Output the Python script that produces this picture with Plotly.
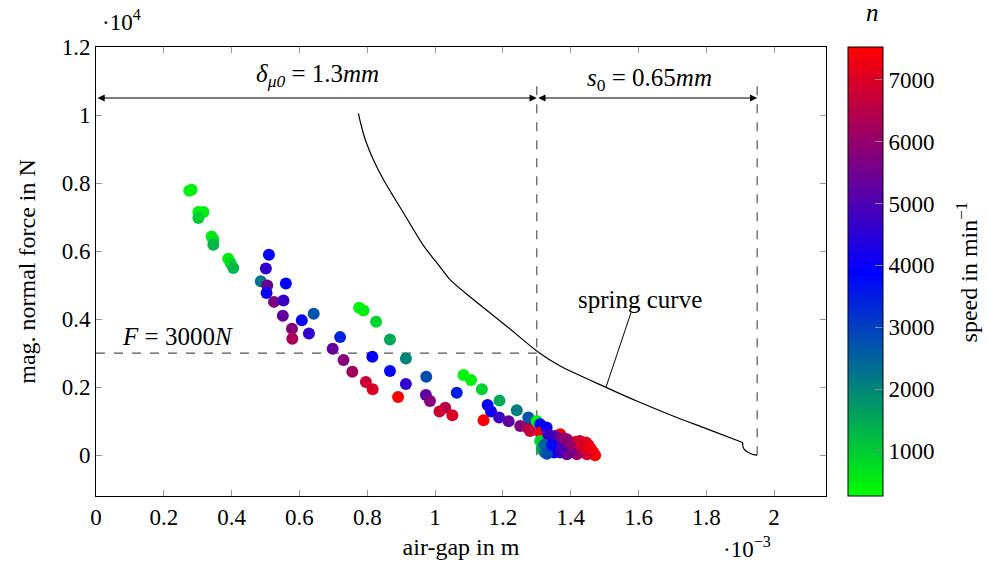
import numpy as np
import plotly.graph_objects as go

# ---- data (air gap in mm, force in N, speed in 1/min) ----
gap_mm = [0.275, 0.282, 0.302, 0.317, 0.302, 0.341, 0.346, 0.346, 0.390, 0.397, 0.405,
          0.510, 0.501, 0.486, 0.505, 0.503, 0.560, 0.525, 0.553, 0.551, 0.607, 0.642,
          0.578, 0.579, 0.628, 0.720, 0.776, 0.789, 0.698, 0.730, 0.826, 0.867, 0.756,
          0.796, 0.816, 0.815, 0.867, 0.914, 0.914, 0.891, 0.974, 0.973, 0.985, 1.030,
          1.013, 1.051, 1.064, 1.084, 1.106, 1.138, 1.190, 1.155, 1.165, 1.143, 1.189,
          1.217, 1.241, 1.251, 1.272, 1.280, 1.275, 1.300, 1.310, 1.310, 1.329, 1.369,
          1.310, 1.315, 1.324, 1.336, 1.351, 1.336, 1.364, 1.389, 1.389, 1.413, 1.418,
          1.445, 1.437, 1.457, 1.467, 1.472, 1.369, 1.389, 1.418, 1.448, 1.354, 1.334,
          1.322, 1.330, 1.345, 1.400, 1.430, 1.375, 1.401, 1.427, 1.452, 1.460, 1.380]
force_N = [7773, 7802, 7148, 7148, 6972, 6432, 6335, 6189, 5778, 5651, 5505,
           5895, 5485, 5113, 4986, 4771, 5045, 4507, 4546, 4097, 3969, 4156,
           3716, 3423, 3578, 3471, 4331, 4253, 3129, 2796, 3921, 3402, 2455,
           2150, 1936, 2895, 2473, 2845, 2091, 1710, 2308, 1769, 1593, 1398,
           1281, 1173, 1838, 2355, 2209, 1936, 1604, 1476, 1281, 1026, 1105,
           997, 1320, 860, 812, 713, 1105, 1007, 909, 665, 812, 616,
           420, 176, 78, 176, 78, 420, 372, 469, 274, 390, 176,
           372, 176, 196, 78, 0, 78, 29, 29, 29, 567, 616,
           300, 40, 300, 120, 300, 230, 330, 420, 300, 180, 500]
speed = [400, 500, 500, 500, 1000, 500, 700, 1300, 500, 800, 1300,
         3900, 4600, 2200, 5400, 4100, 3900, 5700, 4700, 5300, 4000, 2700,
         5800, 6300, 4600, 3400, 400, 500, 5300, 5800, 900, 1500, 6200,
         6800, 7000, 4000, 4000, 2000, 4600, 7500, 2800, 5200, 5800, 6400,
         6800, 7000, 3500, 400, 500, 900, 1500, 4000, 4100, 7500, 4700,
         5300, 2100, 5700, 6300, 6700, 2700, 400, 3900, 7400, 4000, 7500,
         900, 1500, 2100, 3900, 4000, 4600, 5300, 6200, 5600, 6800, 6200,
         7400, 6800, 7300, 7500, 7500, 4600, 5400, 6100, 6800, 5300, 4700,
         2500, 2800, 3800, 5600, 6900, 5000, 6000, 6900, 7200, 7300, 5900]

# spring curve: smooth part and the small drop at its end
spring_gap_mm = [0.774, 0.780, 0.795, 0.820, 0.848, 0.880, 0.907, 0.966, 1.015, 1.044,
                 1.113, 1.211, 1.307, 1.369, 1.504, 1.600, 1.700, 1.800, 1.907]
spring_force = [10050, 9780, 9250, 8640, 8095, 7560, 7119, 6160, 5530, 5162,
                4576, 3792, 3012, 2620, 1994, 1570, 1160, 780, 372]
drop_gap_mm = [1.907, 1.908, 1.912, 1.920, 1.930, 1.940, 1.950]
drop_force = [372, 250, 170, 100, 50, 15, 0]

x_ticks = [0, 0.2, 0.4, 0.6, 0.8, 1.0, 1.2, 1.4, 1.6, 1.8, 2.0]
x_tick_text = ["0", "0.2", "0.4", "0.6", "0.8", "1", "1.2", "1.4", "1.6", "1.8", "2"]
y_ticks = [0, 2000, 4000, 6000, 8000, 10000, 12000]
y_tick_text = ["0", "0.2", "0.4", "0.6", "0.8", "1", "1.2"]
cbar_ticks = [1000, 2000, 3000, 4000, 5000, 6000, 7000]

delta_mu0 = 1.3e-3
s0 = 0.65e-3
F_line = 3000

gap = np.array(gap_mm) * 1e-3

FONT = "Liberation Serif"
TICK = 23
TXT = 25
fig = go.Figure()

fig.add_trace(go.Scatter(
    x=np.array(spring_gap_mm) * 1e-3, y=spring_force, mode="lines", line_shape="spline",
    line=dict(color="black", width=1.2, smoothing=0.8), showlegend=False, hoverinfo="skip"))
fig.add_trace(go.Scatter(
    x=np.array(drop_gap_mm) * 1e-3, y=drop_force, mode="lines", line_shape="spline",
    line=dict(color="black", width=1.2, smoothing=0.6), showlegend=False, hoverinfo="skip"))

fig.add_trace(go.Scatter(
    x=gap, y=force_N, mode="markers", showlegend=False,
    marker=dict(size=12, color=speed, cmin=270, cmax=7530,
                colorscale=[[0, "rgb(0,255,0)"], [0.5, "rgb(0,0,255)"], [1, "rgb(255,0,0)"]],
                line=dict(width=0),
                showscale=True,
                colorbar=dict(x=1.03, xanchor="left", xpad=0, y=0.5, yanchor="middle",
                              len=1, lenmode="fraction", ypad=0, thickness=35,
                              outlinecolor="black", outlinewidth=1,
                              tickvals=cbar_ticks, ticks="inside", ticklen=8,
                              tickcolor="#888", tickfont=dict(family=FONT, size=TICK, color="black"))),
))

dash = dict(color="#555", width=1.2, dash="dash")
fig.add_shape(type="line", x0=delta_mu0, x1=delta_mu0, y0=0, y1=11030, line=dash, layer="below")
fig.add_shape(type="line", x0=delta_mu0 + s0, x1=delta_mu0 + s0, y0=0, y1=11030, line=dash, layer="below")
fig.add_shape(type="line", x0=0, x1=delta_mu0, y0=F_line, y1=F_line, line=dash, layer="below")
# pointer line for spring curve label
fig.add_shape(type="line", x0=1.578e-3, y0=4194, x1=1.504e-3, y1=1994, line=dict(color="black", width=1))

# dimension arrows
for xa, xb in [(0, delta_mu0), (delta_mu0, delta_mu0 + s0)]:
    fig.add_annotation(x=xb, y=10500, ax=xa, ay=10500, xref="x", yref="y", axref="x", ayref="y",
                       text="", showarrow=True, arrowhead=2, startarrowhead=2, arrowside="end+start",
                       arrowsize=1.2, startarrowsize=1.2, arrowwidth=1.2, arrowcolor="black")

tf = dict(family=FONT, size=TXT, color="black")
sp = "\u2005"
fig.add_annotation(x=0.652e-3, y=11175, text=f"<i>δ<sub>μ0</sub></i>{sp}={sp}1.3<i>mm</i>",
                   showarrow=False, font=tf, yanchor="middle")
fig.add_annotation(x=1.631e-3, y=11057, text=f"<i>s</i><sub>0</sub>{sp}={sp}0.65<i>mm</i>",
                   showarrow=False, font=tf, yanchor="middle")
fig.add_annotation(x=1.605e-3, y=4576, text="spring curve", showarrow=False, font=tf, yanchor="middle")
fig.add_annotation(x=0.239e-3, y=3500, text=f"<i>F</i>{sp}={sp}3000<i>N</i>", showarrow=False, font=tf,
                   yanchor="middle")

fig.add_annotation(xref="paper", yref="paper", x=0.005, xanchor="left", y=1.06, yanchor="middle",
                   text="·10<sup>4</sup>", showarrow=False, font=dict(family=FONT, size=TICK, color="black"))
fig.add_annotation(xref="paper", yref="paper", x=0.856, xanchor="left", y=-0.114, yanchor="middle",
                   text="·10<sup>−3</sup>", showarrow=False, font=dict(family=FONT, size=TICK, color="black"))
fig.add_annotation(xref="paper", yref="paper", x=1.064, xanchor="center", y=1.076, yanchor="middle",
                   text="<i>n</i>", showarrow=False, font=dict(family=FONT, size=TXT, color="black"))
fig.add_annotation(xref="paper", yref="paper", x=1.193, xanchor="center", y=0.5, yanchor="middle",
                   text="speed in min<sup>−1</sup>", textangle=-90, showarrow=False,
                   font=dict(family=FONT, size=TXT - 1, color="black"))

axis_common = dict(showline=True, linecolor="black", linewidth=1, mirror="ticks", automargin=False,
                   ticks="inside", ticklen=6, tickcolor="#999", showgrid=False, zeroline=False,
                   tickfont=dict(family=FONT, size=TICK, color="black"))
fig.update_xaxes(range=[0, 2.153e-3], tickvals=np.array(x_ticks) * 1e-3, ticktext=x_tick_text,
                 title=dict(text="air-gap in m", font=dict(family=FONT, size=TXT - 1, color="black"), standoff=9),
                 **axis_common)
fig.update_yaxes(range=[-1200, 12000], tickvals=y_ticks, ticktext=y_tick_text,
                 title=dict(text="mag. normal force in N", font=dict(family=FONT, size=TXT - 1, color="black"),
                            standoff=19),
                 **axis_common)

fig.update_layout(width=988, height=563, margin=dict(l=96, r=162, t=47, b=67, autoexpand=False),
                  paper_bgcolor="white", plot_bgcolor="white", font=dict(family=FONT))

fig.write_html("out.html")
